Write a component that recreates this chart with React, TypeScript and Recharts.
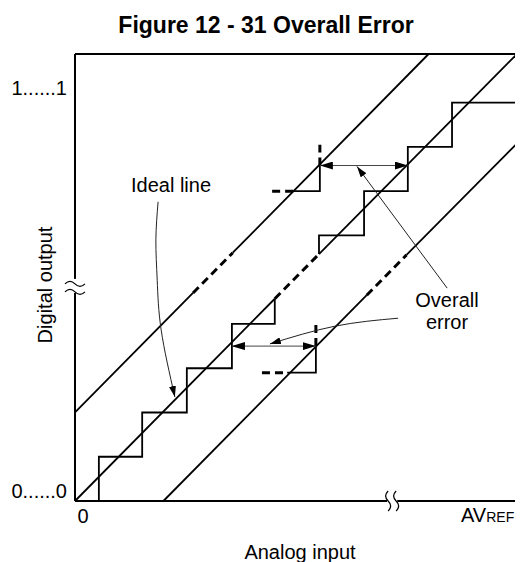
import React from 'react';
import { LineChart, Line, XAxis, YAxis, ReferenceDot } from 'recharts';

// axis units: x in LSB of analog input, y in output code steps
const frameLeftLow = [[0, 0], [0, 4.77]];
const frameLeftHigh = [[0, 4.95], [0, 10.1]];
const frameBottomLow = [[0, 0], [7.06, 0]];
const frameBottomHigh = [[7.29, 0], [10, 0]];
const frameTop = [[0, 10.1], [10, 10.1]];
const frameRight = [[10, 0], [10, 10.1]];

const idealSolidLow = [[0, 0], [4.52, 4.57]];
const idealDashed = [[4.52, 4.57], [5.52, 5.58]];
const idealSolidHigh = [[5.52, 5.58], [10, 10.1]];

const upperSolidLow = [[0, 2], [2.67, 4.7]];
const upperDashed = [[2.67, 4.7], [3.57, 5.61]];
const upperSolidHigh = [[3.57, 5.61], [8, 10.1]];

const lowerSolidLow = [[2, 0], [6.6, 4.65]];
const lowerDashed = [[6.6, 4.65], [7.5, 5.56]];
const lowerSolidHigh = [[7.5, 5.56], [10, 8.08]];

const stairLow = [
  [0.54, 0], [0.54, 1], [1.52, 1], [1.52, 2], [2.53, 2], [2.53, 3],
  [3.55, 3], [3.55, 4], [4.52, 4], [4.52, 4.57],
];
const stairHigh = [
  [5.52, 5.58], [5.52, 6], [6.54, 6], [6.54, 7], [7.53, 7], [7.53, 8],
  [8.53, 8], [8.53, 9], [10, 9],
];

const upperStepDashH = [[4.46, 7], [4.95, 7]];
const upperStepSolid = [[4.95, 7], [5.54, 7], [5.54, 7.58]];
const upperStepDashV = [[5.54, 7.58], [5.54, 8.05]];

const lowerStepDashH = [[4.23, 2.9], [4.8, 2.9]];
const lowerStepSolid = [[4.8, 2.9], [5.45, 2.9], [5.45, 3.5]];
const lowerStepDashV = [[5.45, 3.5], [5.45, 3.98]];

const errorArrowUpper = [[5.54, 7.58], [7.53, 7.58]];
const errorArrowLower = [[3.55, 3.5], [5.45, 3.5]];

const idealLeader = [[1.88, 6.76], [1.83, 5.9], [1.86, 4.99], [1.95, 3.86], [2.26, 2.35]];
const errorLeaderUpper = [[8.42, 4.81], [6.38, 7.56]];
const errorLeaderLower = [[7.31, 4.13], [5.88, 3.95], [4.41, 3.55]];

const FONT = 'Liberation Sans, Arial, Helvetica, sans-serif';

const toPts = (arr: number[][]) => arr.map(([x, y]) => ({ x, y }));

type Seg = {
  data: number[][];
  kind: 'frame' | 'solid' | 'dash' | 'arrow' | 'leader';
  curve?: boolean;
};

const segments: Seg[] = [
  { data: frameLeftLow, kind: 'frame' },
  { data: frameLeftHigh, kind: 'frame' },
  { data: frameBottomLow, kind: 'frame' },
  { data: frameBottomHigh, kind: 'frame' },
  { data: frameTop, kind: 'frame' },
  { data: frameRight, kind: 'frame' },
  { data: idealSolidLow, kind: 'solid' },
  { data: idealDashed, kind: 'dash' },
  { data: idealSolidHigh, kind: 'solid' },
  { data: upperSolidLow, kind: 'solid' },
  { data: upperDashed, kind: 'dash' },
  { data: upperSolidHigh, kind: 'solid' },
  { data: lowerSolidLow, kind: 'solid' },
  { data: lowerDashed, kind: 'dash' },
  { data: lowerSolidHigh, kind: 'solid' },
  { data: stairLow, kind: 'solid' },
  { data: stairHigh, kind: 'solid' },
  { data: upperStepDashH, kind: 'dash' },
  { data: upperStepSolid, kind: 'solid' },
  { data: upperStepDashV, kind: 'dash' },
  { data: lowerStepDashH, kind: 'dash' },
  { data: lowerStepSolid, kind: 'solid' },
  { data: lowerStepDashV, kind: 'dash' },
  { data: errorArrowUpper, kind: 'arrow' },
  { data: errorArrowLower, kind: 'arrow' },
  { data: idealLeader, kind: 'leader', curve: true },
  { data: errorLeaderUpper, kind: 'leader' },
  { data: errorLeaderLower, kind: 'leader', curve: true },
];

const styleFor = (kind: Seg['kind']) => {
  switch (kind) {
    case 'frame':
      return { stroke: '#000', strokeWidth: 2 };
    case 'dash':
      return { stroke: '#000', strokeWidth: 3, strokeDasharray: '8 5' };
    case 'arrow':
      return { stroke: '#444', strokeWidth: 1, markerStart: 'url(#ahBig)', markerEnd: 'url(#ahBig)' };
    case 'leader':
      return { stroke: '#222', strokeWidth: 1, markerEnd: 'url(#ahSmall)' };
    default:
      return { stroke: '#000', strokeWidth: 1.8 };
  }
};

const HBreak = (props: any) => {
  const { cx, cy } = props;
  return (
    <g fill="none" stroke="#000" strokeWidth={1.2}>
      <rect x={cx - 4} y={cy - 7} width={8} height={14} fill="#fff" stroke="none" />
      <path d={`M${cx - 10},${cy - 2} q5,-5 10,0 t10,0`} />
      <path d={`M${cx - 10},${cy + 6} q5,-5 10,0 t10,0`} />
    </g>
  );
};

const VBreak = (props: any) => {
  const { cx, cy } = props;
  return (
    <g fill="none" stroke="#000" strokeWidth={1.2}>
      <path d={`M${cx - 4},${cy - 10} q-5,5 0,10 t0,10`} />
      <path d={`M${cx + 4},${cy - 10} q-5,5 0,10 t0,10`} />
    </g>
  );
};

export default function App() {
  return (
    <div style={{ position: 'relative', width: 515, height: 554 }}>
      <svg width={0} height={0} style={{ position: 'absolute' }}>
        <defs>
          <marker id="ahBig" viewBox="0 0 13 8" refX="13" refY="4" markerWidth="13" markerHeight="8"
            markerUnits="userSpaceOnUse" orient="auto-start-reverse">
            <path d="M0,0 L13,4 L0,8 z" fill="#000" />
          </marker>
          <marker id="ahSmall" viewBox="0 0 11 7" refX="11" refY="3.5" markerWidth="11" markerHeight="7"
            markerUnits="userSpaceOnUse" orient="auto">
            <path d="M0,0 L11,3.5 L0,7 z" fill="#000" />
          </marker>
        </defs>
      </svg>
      <LineChart width={515} height={554} margin={{ top: 46, right: 6, bottom: 61, left: 67 }}>
        <XAxis type="number" dataKey="x" domain={[0, 10]} hide />
        <YAxis type="number" dataKey="y" domain={[0, 10.1]} hide />
        {segments.map((s, i) => (
          <Line
            key={`seg-${i}`}
            data={toPts(s.data)}
            dataKey="y"
            type={s.curve ? 'natural' : 'linear'}
            dot={false}
            activeDot={false}
            isAnimationActive={false}
            {...styleFor(s.kind)}
          />
        ))}
        <ReferenceDot x={0} y={4.86} r={0} shape={HBreak} ifOverflow="visible" />
        <ReferenceDot x={7.175} y={0} r={0} shape={VBreak} ifOverflow="visible" />
        <text x={258} y={25} textAnchor="middle" fontFamily={FONT} fontWeight="bold" fontSize={23} fill="#000">
          Figure 12 - 31 Overall Error
        </text>
        <text x={59} y={87} textAnchor="end" fontFamily={FONT} fontSize={20} fill="#000">1......1</text>
        <text x={59} y={490} textAnchor="end" fontFamily={FONT} fontSize={20} fill="#000">0......0</text>
        <text x={75} y={515} textAnchor="middle" fontFamily={FONT} fontSize={20} fill="#000">0</text>
        <text x={453} y={514} fontFamily={FONT} fontSize={20} fill="#000">
          AV<tspan fontSize={14}>REF</tspan>
        </text>
        <text x={292} y={551} textAnchor="middle" fontFamily={FONT} fontSize={20} fill="#000">Analog input</text>
        <text x={37} y={277} textAnchor="middle" dominantBaseline="central" transform="rotate(-90 37 277)"
          fontFamily={FONT} fontSize={20} fill="#000">
          Digital output
        </text>
        <text x={163} y={184} textAnchor="middle" fontFamily={FONT} fontSize={20} fill="#000">Ideal line</text>
        <text x={439} y={299} textAnchor="middle" fontFamily={FONT} fontSize={20} fill="#000">Overall</text>
        <text x={439} y={321} textAnchor="middle" fontFamily={FONT} fontSize={20} fill="#000">error</text>
      </LineChart>
    </div>
  );
}
